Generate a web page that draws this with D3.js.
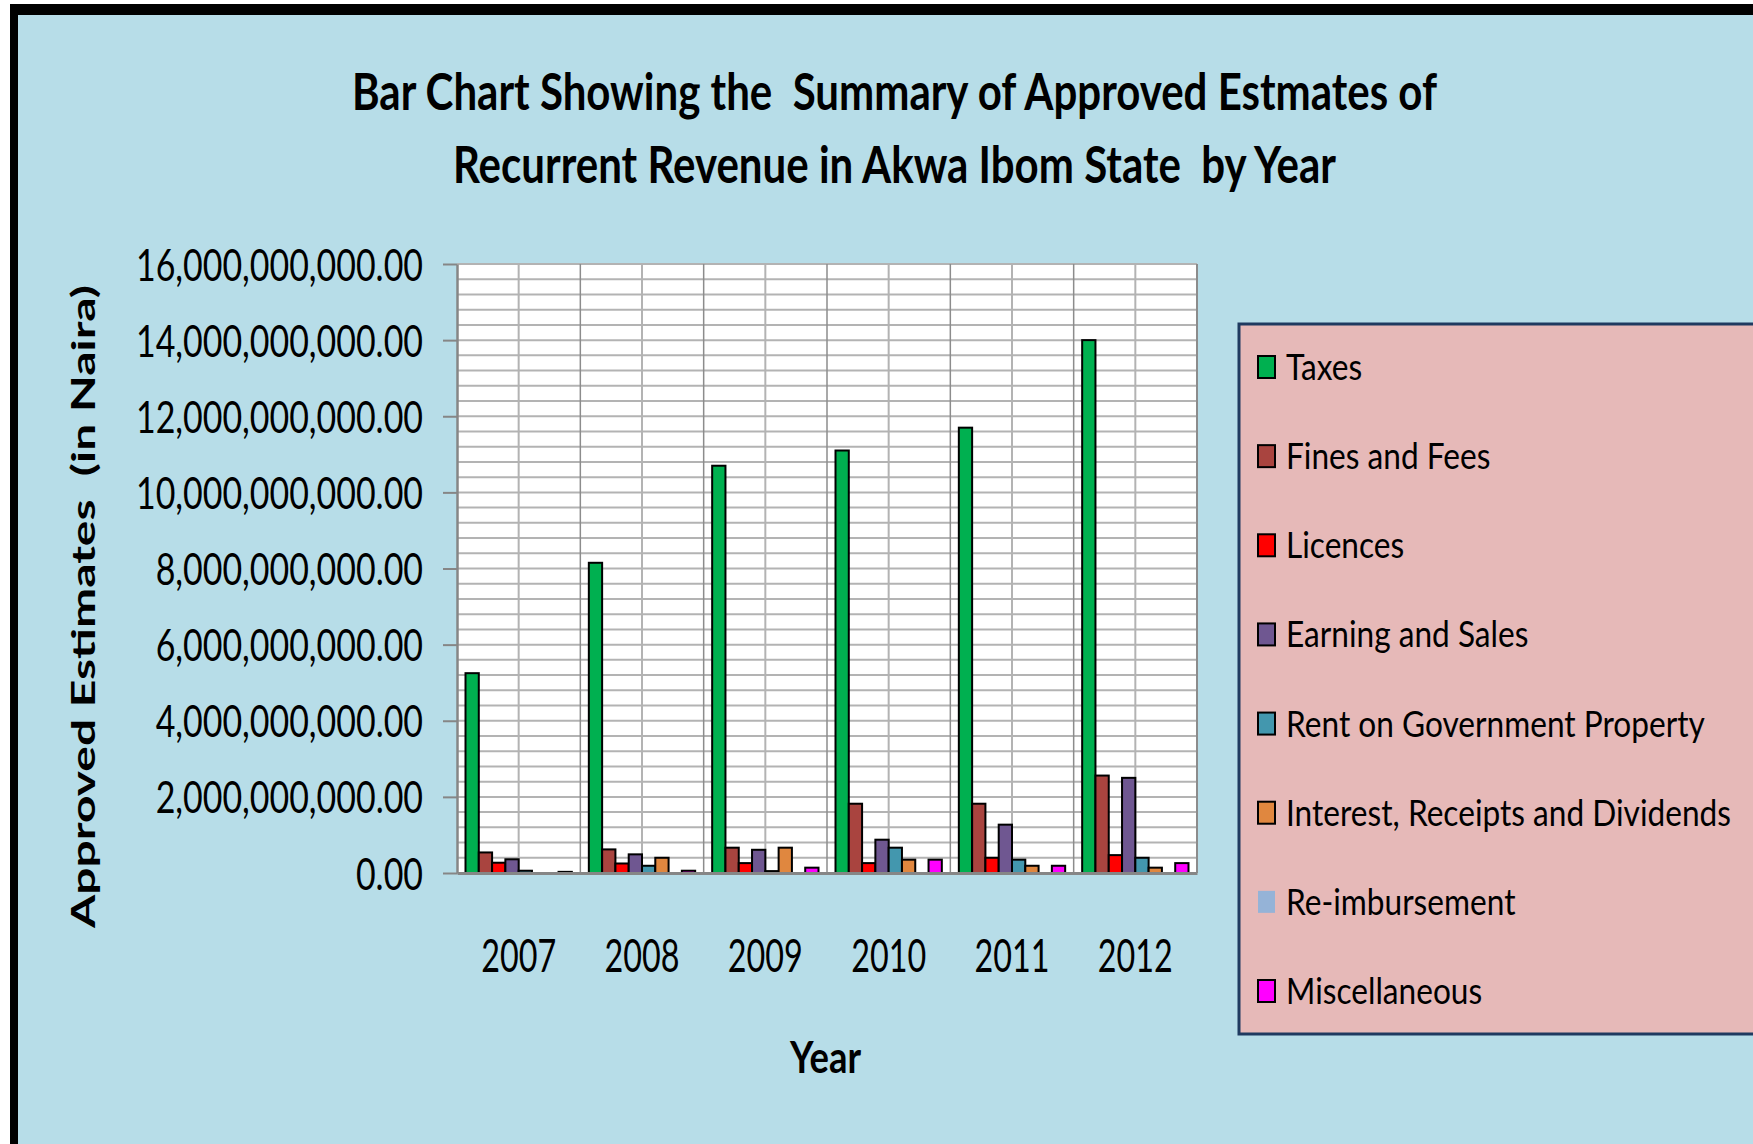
<!DOCTYPE html>
<html lang="en">
<head>
    <meta charset="UTF-8">
    <title>Approved Estimates of Recurrent Revenue - Akwa Ibom</title>
    <script src="https://d3js.org/d3.v7.min.js"></script>
    <style>
        body {
            margin: 0;
            background: #ffffff;
            font-family: Lato, "DejaVu Sans", sans-serif;
        }
        svg { display: block; }
        text { white-space: pre; }
    </style>
</head>
<body>

    <div id="container"></div>

    <script>
        // categories and series
        const years = ['2007', '2008', '2009', '2010', '2011', '2012'];
        const seriesNames = ['Taxes', 'Fines and Fees', 'Licences', 'Earning and Sales',
            'Rent on Government Property', 'Interest, Receipts and Dividends', 'Re-imbursement', 'Miscellaneous'];
        const seriesColors = ['#00b050', '#a9443f', '#ff0000', '#6f5791', '#4397ae', '#e0873f', '#95b3d7', '#ff00ff'];

        // values (naira)
        const taxes = [5.25e9, 8.15e9, 10.70e9, 11.10e9, 11.70e9, 14.00e9];
        const finesFees = [0.54e9, 0.62e9, 0.665e9, 1.82e9, 1.82e9, 2.56e9];
        const licences = [0.27e9, 0.25e9, 0.26e9, 0.26e9, 0.40e9, 0.47e9];
        const earningSales = [0.36e9, 0.49e9, 0.61e9, 0.875e9, 1.27e9, 2.50e9];
        const rentProperty = [0.06e9, 0.19e9, 0.05e9, 0.665e9, 0.35e9, 0.40e9];
        const interestDividends = [0, 0.40e9, 0.665e9, 0.35e9, 0.19e9, 0.14e9];
        const reimbursement = [0, 0, 0, 0, 0, 0];
        const miscellaneous = [0.03e9, 0.06e9, 0.14e9, 0.35e9, 0.19e9, 0.26e9];
        const seriesValues = [taxes, finesFees, licences, earningSales, rentProperty,
            interestDividends, reimbursement, miscellaneous];

        // axis ticks
        const yMax = 16e9;
        const yMajorTicks = [0, 2e9, 4e9, 6e9, 8e9, 10e9, 12e9, 14e9, 16e9];
        const yMinorStep = 0.4e9;

        const W = 1753, H = 1144;
        const plot = { left: 457, top: 264, right: 1197, bottom: 873 };

        const svg = d3.select('#container').append('svg')
            .attr('width', W)
            .attr('height', H);

        // frame: black border top/left, light blue panel
        svg.append('rect').attr('x', 10).attr('y', 4).attr('width', W).attr('height', H).attr('fill', '#000');
        svg.append('rect').attr('x', 18).attr('y', 15).attr('width', W).attr('height', H).attr('fill', '#b7dde8');

        // stretch a text to a given width
        function fit(sel, width) {
            sel.attr('textLength', width).attr('lengthAdjust', 'spacingAndGlyphs');
        }

        // title
        const title1 = svg.append('text')
            .attr('x', 352).attr('y', 110)
            .attr('font-size', 52).attr('font-weight', 'bold')
            .text('Bar Chart Showing the  Summary of Approved Estmates of');
        fit(title1, 1085);
        const title2 = svg.append('text')
            .attr('x', 453).attr('y', 183)
            .attr('font-size', 52).attr('font-weight', 'bold')
            .text('Recurrent Revenue in Akwa Ibom State  by Year');
        fit(title2, 883);

        // scales
        const x = d3.scaleBand()
            .domain(years)
            .range([plot.left, plot.right])
            .padding(0);

        const xInner = d3.scaleBand()
            .domain(seriesNames)
            .range([8.5, x.bandwidth() - 8.5])
            .padding(0);

        const y = d3.scaleLinear()
            .domain([0, yMax])
            .range([plot.bottom, plot.top]);

        // plot background
        svg.append('rect')
            .attr('x', plot.left).attr('y', plot.top)
            .attr('width', plot.right - plot.left).attr('height', plot.bottom - plot.top)
            .attr('fill', '#ffffff');

        // horizontal gridlines
        svg.append('g').selectAll('line')
            .data(d3.range(0, yMax + 1, yMinorStep))
            .enter()
            .append('line')
            .attr('x1', plot.left).attr('x2', plot.right)
            .attr('y1', function(d){ return y(d); })
            .attr('y2', function(d){ return y(d); })
            .attr('stroke', '#b3b3b3')
            .attr('stroke-width', 2);

        // vertical gridlines: category boundaries and midpoints
        svg.append('g').selectAll('line')
            .data(years)
            .enter()
            .append('line')
            .attr('x1', function(d){ return x(d) + x.bandwidth() / 2; })
            .attr('x2', function(d){ return x(d) + x.bandwidth() / 2; })
            .attr('y1', plot.top).attr('y2', plot.bottom)
            .attr('stroke', '#b3b3b3')
            .attr('stroke-width', 2);

        svg.append('g').selectAll('line')
            .data(years.slice(1))
            .enter()
            .append('line')
            .attr('x1', function(d){ return x(d); })
            .attr('x2', function(d){ return x(d); })
            .attr('y1', plot.top).attr('y2', plot.bottom)
            .attr('stroke', '#8c8c8c')
            .attr('stroke-width', 1.5);

        // right border of plot
        svg.append('line')
            .attr('x1', plot.right).attr('x2', plot.right)
            .attr('y1', plot.top).attr('y2', plot.bottom)
            .attr('stroke', '#8c8c8c').attr('stroke-width', 2);

        // bars
        const groups = svg.append('g').selectAll('g')
            .data(years)
            .enter()
            .append('g')
            .attr('transform', function(d){ return 'translate(' + x(d) + ',0)'; });

        groups.selectAll('rect')
            .data(function(d, i){
                return seriesNames.map(function(name, j){
                    return { name: name, value: seriesValues[j][i], color: seriesColors[j] };
                }).filter(function(b){ return b.value > 0; });
            })
            .enter()
            .append('rect')
            .attr('x', function(d){ return xInner(d.name); })
            .attr('y', function(d){ return y(d.value); })
            .attr('width', xInner.bandwidth())
            .attr('height', function(d){ return y(0) - y(d.value); })
            .attr('fill', function(d){ return d.color; })
            .attr('stroke', '#000')
            .attr('stroke-width', 2);

        // y axis
        const yAxis = svg.append('g')
            .attr('transform', 'translate(' + plot.left + ',0)')
            .call(d3.axisLeft(y)
                .tickValues(yMajorTicks)
                .tickFormat(d3.format(',.2f'))
                .tickSize(14)
                .tickSizeOuter(0));
        yAxis.select('.domain').attr('stroke', '#868686').attr('stroke-width', 2.5);
        yAxis.selectAll('.tick line').attr('stroke', '#868686').attr('stroke-width', 2);
        yAxis.selectAll('.tick text')
            .attr('font-family', 'Lato, "DejaVu Sans", sans-serif')
            .attr('font-size', 44)
            .attr('fill', '#000')
            .attr('text-anchor', 'start')
            .attr('dy', 0)
            .attr('y', 16);
        // squeeze the labels like the condensed original
        const widest = yAxis.selectAll('.tick text').nodes()
            .map(function(n){ return n.getComputedTextLength(); });
        const yLabelK = 287 / d3.max(widest);
        yAxis.selectAll('.tick text').each(function(){
            const w = this.getComputedTextLength() * yLabelK;
            d3.select(this).attr('x', -34 - w);
            fit(d3.select(this), w);
        });

        // x axis
        const xAxis = svg.append('g')
            .attr('transform', 'translate(0,' + plot.bottom + ')')
            .call(d3.axisBottom(x).tickSize(0).tickSizeOuter(0));
        xAxis.select('.domain').attr('stroke', '#868686').attr('stroke-width', 3);
        xAxis.selectAll('.tick text')
            .attr('font-family', 'Lato, "DejaVu Sans", sans-serif')
            .attr('font-size', 47)
            .attr('fill', '#000')
            .attr('text-anchor', 'start')
            .attr('dy', 0)
            .attr('y', 99)
            .attr('x', -37.5);
        fit(xAxis.selectAll('.tick text'), 75);

        // axis titles
        const xTitle = svg.append('text')
            .attr('x', 790).attr('y', 1073)
            .attr('font-size', 43).attr('font-weight', 'bold')
            .text('Year');
        fit(xTitle, 71);

        const yTitle = svg.append('text')
            .attr('transform', 'translate(95,928) rotate(-90)')
            .attr('font-size', 32).attr('font-weight', 'bold')
            .text('Approved Estimates  (in Naira)');
        fit(yTitle, 643);

        // legend
        const legend = svg.append('g');
        legend.append('rect')
            .attr('x', 1239).attr('y', 324)
            .attr('width', 560).attr('height', 710)
            .attr('fill', '#e6b9b8')
            .attr('stroke', '#1f3a60')
            .attr('stroke-width', 3);

        const rowY = d3.scalePoint()
            .domain(seriesNames)
            .range([367, 991]);

        legend.selectAll('.swatch')
            .data(seriesNames)
            .enter()
            .append('rect')
            .attr('class', 'swatch')
            .attr('x', 1258)
            .attr('y', function(d){ return rowY(d) - 11; })
            .attr('width', 17)
            .attr('height', 22)
            .attr('fill', function(d, i){ return seriesColors[i]; })
            .attr('stroke', function(d){ return d === 'Re-imbursement' ? 'none' : '#000'; })
            .attr('stroke-width', 2);

        const legendText = legend.selectAll('.label')
            .data(seriesNames)
            .enter()
            .append('text')
            .attr('class', 'label')
            .attr('x', 1286)
            .attr('y', function(d){ return rowY(d) + 13; })
            .attr('font-size', 37)
            .text(function(d){ return d; });

        const legendK = 445 / d3.max(legendText.nodes(), function(n){ return n.getComputedTextLength(); });
        legendText.each(function(){
            fit(d3.select(this), this.getComputedTextLength() * legendK);
        });
    </script>

</body>
</html>
